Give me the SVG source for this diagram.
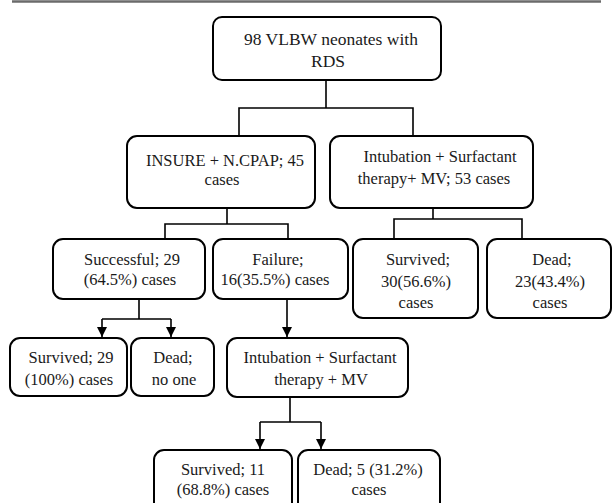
<svg xmlns="http://www.w3.org/2000/svg" width="613" height="503" viewBox="0 0 613 503">
<style>
.box{fill:#fff;stroke:#000;stroke-width:2}
.t{font-family:"Liberation Serif","Times New Roman",serif;font-size:16.5px;fill:#1a1a1a;text-anchor:middle}
.c{fill:none;stroke:#000;stroke-width:1.6}
</style>
<defs>
<marker id="ah" markerUnits="userSpaceOnUse" markerWidth="11" markerHeight="10" refX="10" refY="5" orient="auto">
<path d="M0,0 L10,5 L0,10 Z" fill="#000"/>
</marker>
</defs>
<rect x="0" y="0" width="613" height="503" fill="#fff"/>
<line x1="12" y1="1.5" x2="601" y2="1.5" stroke="#6b6b6b" stroke-width="2.5"/>
<g id="connectors">
<path class="c" d="M326,80 V108 M239,136 V108 H413 V136"/>
<path class="c" d="M227,208 V224 M165,238 V224 H288 V238"/>
<path class="c" d="M433,208 V219 M394,238 V219 H522 V238"/>
<path class="c" d="M139,299 V319 M102,319 H171"/>
<path class="c" d="M102,319 V337" marker-end="url(#ah)"/>
<path class="c" d="M171,319 V337" marker-end="url(#ah)"/>
<path class="c" d="M287,299 V337" marker-end="url(#ah)"/>
<path class="c" d="M290,397 V422 M260,422 H321"/>
<path class="c" d="M260,422 V449" marker-end="url(#ah)"/>
<path class="c" d="M321,422 V449" marker-end="url(#ah)"/>
</g>
<g id="n_root">
<rect class="box" x="213" y="17" width="228" height="63" rx="9"/>
<text class="t" x="331" y="45" style="font-size:17.5px">98 VLBW neonates with</text>
<text class="t" x="328" y="67" style="font-size:17.5px">RDS</text>
</g>
<g id="n_insure">
<rect class="box" x="127" y="136" width="188" height="72" rx="10"/>
<text class="t" x="225" y="166">INSURE + N.CPAP; 45</text>
<text class="t" x="222" y="185">cases</text>
</g>
<g id="n_intub1">
<rect class="box" x="330" y="136" width="203" height="72" rx="10"/>
<text class="t" x="440" y="162">Intubation + Surfactant</text>
<text class="t" x="434" y="184">therapy+ MV; 53 cases</text>
</g>
<g id="n_success">
<rect class="box" x="53" y="239" width="152" height="60" rx="10"/>
<text class="t" x="132" y="265">Successful; 29</text>
<text class="t" x="130" y="285">(64.5%) cases</text>
</g>
<g id="n_failure">
<rect class="box" x="213" y="239" width="135" height="60" rx="10"/>
<text class="t" x="278" y="265">Failure;</text>
<text class="t" x="275" y="285">16(35.5%) cases</text>
</g>
<g id="n_surv30">
<rect class="box" x="353" y="239" width="125" height="79" rx="10"/>
<text class="t" x="418" y="265">Survived;</text>
<text class="t" x="416" y="287">30(56.6%)</text>
<text class="t" x="416" y="308">cases</text>
</g>
<g id="n_dead23">
<rect class="box" x="487" y="239" width="124" height="79" rx="10"/>
<text class="t" x="552" y="265">Dead;</text>
<text class="t" x="550" y="287">23(43.4%)</text>
<text class="t" x="550" y="308">cases</text>
</g>
<g id="n_surv29">
<rect class="box" x="10" y="338" width="117" height="58" rx="10"/>
<text class="t" x="71" y="363">Survived; 29</text>
<text class="t" x="69" y="385">(100%) cases</text>
</g>
<g id="n_deadnone">
<rect class="box" x="131" y="338" width="83" height="58" rx="10"/>
<text class="t" x="173" y="363">Dead;</text>
<text class="t" x="174" y="385">no one</text>
</g>
<g id="n_intub2">
<rect class="box" x="227" y="338" width="181" height="59" rx="10"/>
<text class="t" x="320" y="363">Intubation + Surfactant</text>
<text class="t" x="321" y="385">therapy + MV</text>
</g>
<g id="n_surv11">
<rect class="box" x="154" y="450" width="138" height="62" rx="10"/>
<text class="t" x="223" y="475">Survived; 11</text>
<text class="t" x="223" y="495">(68.8%) cases</text>
</g>
<g id="n_dead5">
<rect class="box" x="298" y="450" width="142" height="62" rx="10"/>
<text class="t" x="368" y="475">Dead; 5 (31.2%)</text>
<text class="t" x="369" y="495">cases</text>
</g>
</svg>
